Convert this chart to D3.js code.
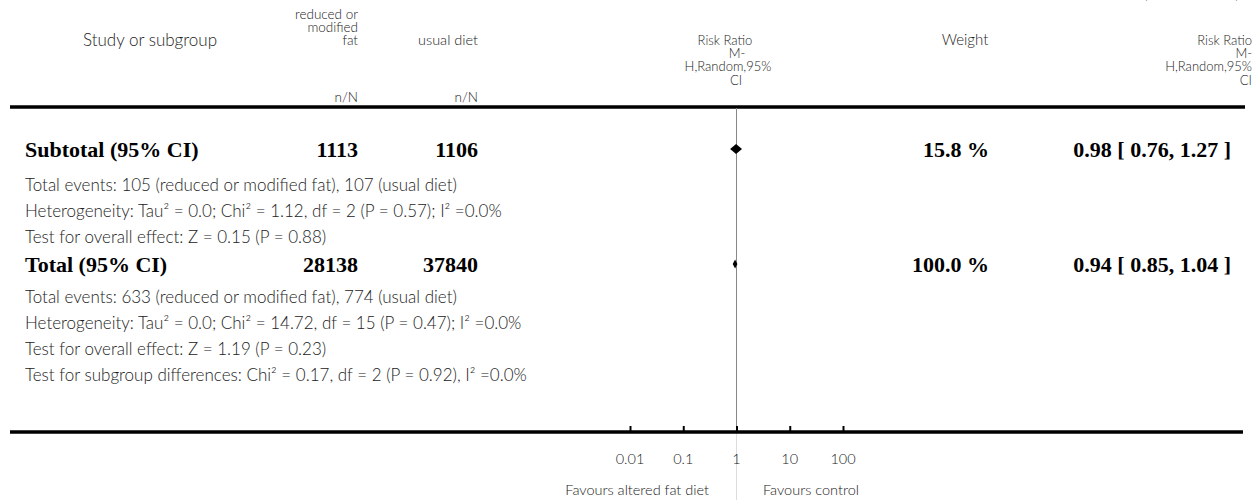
<!DOCTYPE html>
<html><head><meta charset="utf-8">
<script src="https://cdn.jsdelivr.net/npm/d3@7"></script>
<style>
body{margin:0;background:#fff;}
svg{display:block;}
.lt{font-family:Lato,"Open Sans",sans-serif;font-weight:300;fill:#222;}
.bd{font-family:"Liberation Serif","DejaVu Serif",serif;font-weight:bold;fill:#000;}
</style></head>
<body>
<script>
// ---- data ----
const headerExp = ["reduced or", "modified", "fat"];
const headerCtl = ["usual diet"];
const headerRR = ["Risk Ratio", "M-", "H,Random,95%", "CI"];
const summaryLabels = ["Subtotal (95% CI)", "Total (95% CI)"];
const summaryNExp = [1113, 28138];
const summaryNCtl = [1106, 37840];
const summaryRR = [0.98, 0.94];
const summaryLo = [0.76, 0.85];
const summaryHi = [1.27, 1.04];
const summaryWeight = ["15.8 %", "100.0 %"];
const subtotalNotes = [
  "Total events: 105 (reduced or modified fat), 107 (usual diet)",
  "Heterogeneity: Tau² = 0.0; Chi² = 1.12, df = 2 (P = 0.57); I² =0.0%",
  "Test for overall effect: Z = 0.15 (P = 0.88)"
];
const totalNotes = [
  "Total events: 633 (reduced or modified fat), 774 (usual diet)",
  "Heterogeneity: Tau² = 0.0; Chi² = 14.72, df = 15 (P = 0.47); I² =0.0%",
  "Test for overall effect: Z = 1.19 (P = 0.23)",
  "Test for subgroup differences: Chi² = 0.17, df = 2 (P = 0.92), I² =0.0%"
];
const axisTicks = [0.01, 0.1, 1, 10, 100];
const axisTickLabels = ["0.01", "0.1", "1", "10", "100"];
const favourLeft = "Favours altered fat diet";
const favourRight = "Favours control";

// ---- drawing ----
const W = 1258, H = 500;
const svg = d3.select("body").append("svg").attr("width", W).attr("height", H);
const x = d3.scaleLog().domain([0.01, 100]).range([630, 843]);

// continued marker (mostly clipped at top)
svg.append("text").attr("class","lt").attr("x",1239).attr("y",-1).attr("text-anchor","end")
  .style("font-size","14px").text("(Continued . . . )");

const hdrY = [14, 27, 40, 53, 66, 80, 97];
const hs = "13px";
function ht(xp, y, t, anchor, size){
  svg.append("text").attr("class","lt").attr("x",xp).attr("y",y+5).attr("text-anchor",anchor).style("font-size",size||hs).text(t);
}
ht(150, hdrY[2]+1, "Study or subgroup", "middle", "17px");
headerExp.forEach((t,i)=>ht(358, hdrY[i], t, "end", "13.5px"));
headerCtl.forEach((t,i)=>ht(478, hdrY[2+i], t, "end", "14.5px"));
const rrCx = [725, 737, 728, 736];
headerRR.forEach((t,i)=>ht(rrCx[i], hdrY[2+i], t, "middle"));
ht(965, hdrY[2], "Weight", "middle", "15px");
headerRR.forEach((t,i)=>ht(1252, hdrY[2+i], t, "end"));
[358,478].forEach(px=>ht(px, hdrY[6], "n/N", "end", "13.5px"));

// top rule
const topRuleY = 107;
svg.append("line").attr("x1",10).attr("x2",1245).attr("y1",topRuleY).attr("y2",topRuleY).attr("stroke","#000").attr("stroke-width",3.5);

// vertical line of no effect
svg.append("line").attr("x1",x(1)).attr("x2",x(1)).attr("y1",topRuleY+1).attr("y2",432).attr("stroke","#888").attr("stroke-width",1);
svg.append("line").attr("x1",x(1)).attr("x2",x(1)).attr("y1",432).attr("y2",500).attr("stroke","#ddd").attr("stroke-width",1);

// summary rows
const rowY = [150, 265];
const noteGroups = [subtotalNotes, totalNotes];
const noteStart = [185, 297];
const noteStep = 26;
const bs = "22px";
summaryLabels.forEach((lab,i)=>{
  const y = rowY[i];
  const by = y + 7;
  svg.append("text").attr("class","bd").attr("x",25).attr("y",by).style("font-size",bs).text(lab);
  svg.append("text").attr("class","bd").attr("x",358).attr("y",by).attr("text-anchor","end").style("font-size",bs).text(summaryNExp[i]);
  svg.append("text").attr("class","bd").attr("x",478).attr("y",by).attr("text-anchor","end").style("font-size",bs).text(summaryNCtl[i]);
  svg.append("text").attr("class","bd").attr("x",989).attr("y",by).attr("text-anchor","end").style("font-size",bs).text(summaryWeight[i]);
  svg.append("text").attr("class","bd").attr("x",1231).attr("y",by).attr("text-anchor","end").style("font-size",bs)
    .text(`${summaryRR[i].toFixed(2)} [ ${summaryLo[i].toFixed(2)}, ${summaryHi[i].toFixed(2)} ]`);
  const h = i===0 ? 5 : 4.5;
  const yc = y - 1;
  const pts = [[x(summaryLo[i]),yc],[x(summaryRR[i]),yc-h],[x(summaryHi[i]),yc],[x(summaryRR[i]),yc+h]];
  svg.append("path").attr("d",d3.line()(pts)+"Z").attr("fill","#000");
  noteGroups[i].forEach((t,j)=>{
    svg.append("text").attr("class","lt").attr("x",25).attr("y",noteStart[i]+j*noteStep+6).style("font-size","17px").text(t);
  });
});

// bottom axis
svg.append("line").attr("x1",10).attr("x2",1243).attr("y1",432).attr("y2",432).attr("stroke","#000").attr("stroke-width",3.5);
const ax = svg.append("g").attr("transform","translate(0,432)")
  .call(d3.axisTop(x).tickValues(axisTicks).tickSize(6).tickFormat(""));
ax.select(".domain").remove();
ax.selectAll(".tick line").attr("stroke","#000").attr("stroke-width",2);
axisTicks.forEach((v,i)=>svg.append("text").attr("class","lt").attr("x",x(v)).attr("y",464).attr("text-anchor","middle").style("font-size","14.5px").text(axisTickLabels[i]));
svg.append("text").attr("class","lt").attr("x",709).attr("y",495).attr("text-anchor","end").style("font-size","14.5px").text(favourLeft);
svg.append("text").attr("class","lt").attr("x",763).attr("y",495).style("font-size","14.5px").text(favourRight);
</script>
</body></html>
